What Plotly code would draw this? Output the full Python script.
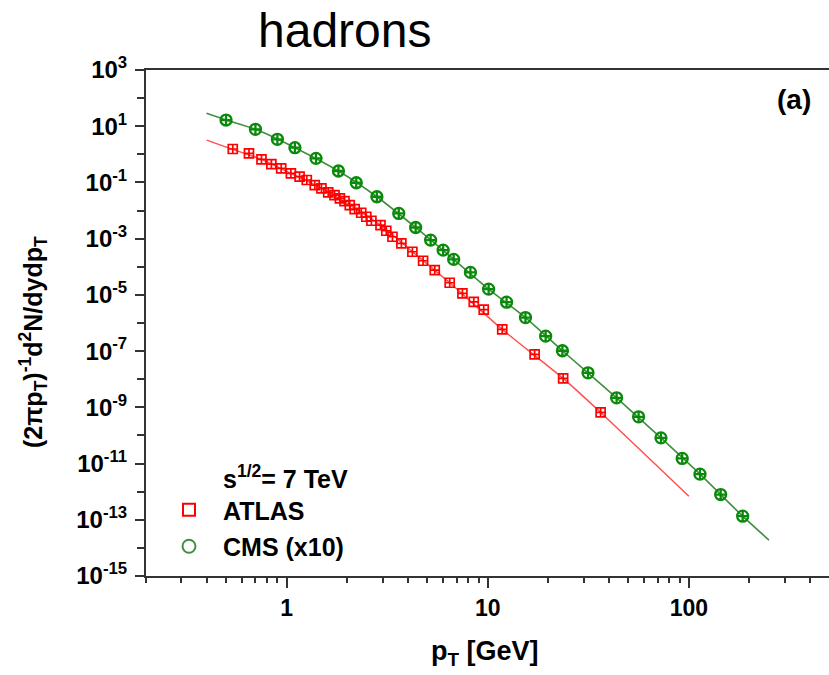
import numpy as np
import plotly.graph_objects as go

# ATLAS charged hadrons, sqrt(s) = 7 TeV
atlas_pt = [0.54, 0.65, 0.75, 0.84, 0.94, 1.05, 1.16, 1.26, 1.38, 1.49, 1.61, 1.73,
            1.84, 1.94, 2.06, 2.18, 2.35, 2.49, 2.64, 2.93, 3.13, 3.36, 3.72, 4.22,
            4.77, 5.45, 6.47, 7.48, 8.52, 9.55, 11.8, 17.1, 23.7, 36.4]
atlas_val = [1.55, 1.09, 0.664, 0.452, 0.318, 0.211, 0.160, 0.122, 0.0808, 0.0616,
             0.0444, 0.0356, 0.0272, 0.0218, 0.0157, 0.0113, 8.35e-3, 6.01e-3, 4.34e-3,
             3.05e-3, 1.91e-3, 1.17e-3, 6.81e-4, 3.42e-4, 1.64e-4, 7.64e-5, 2.70e-5,
             1.13e-5, 5.68e-6, 3.0e-6, 5.92e-7, 7.64e-8, 1.07e-8, 6.58e-10]

# CMS charged hadrons (scaled x10)
cms_pt = [0.5, 0.7, 0.9, 1.1, 1.4, 1.81, 2.22, 2.81, 3.61, 4.38, 5.2, 6.0, 6.77, 8.2,
          10.1, 12.4, 15.4, 19.4, 23.5, 31.5, 43.7, 56.2, 72.6, 92.6, 113.5, 143.8, 185]
cms_val = [16.6, 7.76, 3.42, 1.72, 0.72, 0.255, 0.0976, 0.031, 7.9e-3, 2.5e-3, 8.9e-4,
           3.9e-4, 1.83e-4, 6.3e-5, 1.6e-5, 5.5e-6, 1.56e-6, 3.4e-7, 1.03e-7, 1.69e-8,
           2.18e-9, 4.6e-10, 8.2e-11, 1.52e-11, 4.2e-12, 7.9e-13, 1.34e-13]

# Fitted curves
atlas_fit_pt = [0.4, 0.54, 0.75, 1.05, 1.49, 2.06, 2.93, 4.22, 6.47, 11.8, 23.7, 36.4, 100]
atlas_fit_val = [3.2, 1.5, 0.66, 0.21, 0.062, 0.0157, 3.05e-3, 3.42e-4, 2.7e-5, 5.92e-7,
                 1.07e-8, 6.58e-10, 6.9e-13]
cms_fit_pt = [0.4, 0.5, 0.7, 1.1, 1.81, 2.81, 4.38, 6.77, 10.1, 15.4, 23.5, 43.7, 72.6,
              113.5, 185, 250]
cms_fit_val = [28.8, 16.6, 7.76, 1.72, 0.255, 0.031, 2.5e-3, 1.83e-4, 1.6e-5, 1.56e-6,
               1.03e-7, 2.18e-9, 8.2e-11, 4.2e-12, 1.34e-13, 1.88e-14]

y_exp = list(range(-15, 4))
x_major = [1, 10, 100]
x_minor = [m * 10 ** d for d in (-1, 0, 1, 2) for m in range(2, 10) if 0.2 <= m * 10 ** d <= 500]

RED = "#ff0000"
GREEN = "#0a8a0a"
FONT = "Arial, Liberation Sans, sans-serif"

fig = go.Figure()

fig.add_trace(go.Scatter(x=atlas_fit_pt, y=atlas_fit_val, mode="lines",
                         line=dict(color="#ff5050", width=1.5, shape="spline", smoothing=0.6),
                         showlegend=False, hoverinfo="skip"))
fig.add_trace(go.Scatter(x=cms_fit_pt, y=cms_fit_val, mode="lines",
                         line=dict(color="#3f8f3f", width=1.6, shape="spline", smoothing=0.6),
                         showlegend=False, hoverinfo="skip"))
fig.add_trace(go.Scatter(x=atlas_pt, y=atlas_val, mode="markers",
                         marker=dict(symbol="square-cross-open", size=9, color=RED,
                                     line=dict(width=1.7, color=RED)),
                         showlegend=False))
fig.add_trace(go.Scatter(x=cms_pt, y=cms_val, mode="markers",
                         marker=dict(symbol="circle-cross-open", size=11, color=GREEN,
                                     line=dict(width=2.3, color=GREEN)),
                         showlegend=False))

# legend swatches
fig.add_trace(go.Scatter(x=[None], y=[None], mode="markers", name="ATLAS", legendgroup="a",
                         marker=dict(symbol="square-open", size=12, color=RED,
                                     line=dict(width=2, color=RED))))
fig.add_trace(go.Scatter(x=[None], y=[None], mode="markers", name="CMS (x10)", legendgroup="c",
                         marker=dict(symbol="circle-open", size=13, color="#3f8f3f",
                                     line=dict(width=2, color="#3f8f3f"))))

W, H = 829, 675
L, R, T, B = 146, 0, 70, 99

fig.update_layout(
    width=W, height=H,
    margin=dict(l=L, r=R, t=T, b=B),
    paper_bgcolor="white", plot_bgcolor="white",
    font=dict(family=FONT, color="black"),
    showlegend=True,
    legend=dict(x=(155 - L) / (W - L - R), y=(H - B - 487) / (H - T - B),
                xanchor="left", yanchor="top",
                font=dict(size=25, family=FONT, color="black", weight="bold"),
                itemwidth=58, tracegroupgap=1, bgcolor="rgba(0,0,0,0)"),
    xaxis=dict(type="log", range=[np.log10(0.2), np.log10(497)],
               showline=True, linecolor="#333333", linewidth=2, mirror=True,
               ticks="outside", ticklen=10, tickwidth=2, tickcolor="#333333",
               tickvals=x_major, ticktext=[str(v) for v in x_major],
               tickfont=dict(size=23, family=FONT, color="black", weight="bold"),
               minor=dict(tickvals=x_minor, ticks="outside", ticklen=5, tickwidth=2,
                          tickcolor="#333333", showgrid=False),
               showgrid=False, zeroline=False),
    yaxis=dict(type="log", range=[-15, 3],
               showline=True, linecolor="#333333", linewidth=2, mirror=False,
               ticks="outside", ticklen=9, tickwidth=2, tickcolor="#333333",
               ticklabelstandoff=3,
               tickvals=[10.0 ** e for e in y_exp if e % 2],
               ticktext=["10<sup>%d</sup>" % e for e in y_exp if e % 2],
               tickfont=dict(size=24, family=FONT, color="black", weight="bold"),
               minor=dict(tickvals=[10.0 ** e for e in y_exp if e % 2 == 0], ticks="outside",
                          ticklen=7, tickwidth=2, tickcolor="#333333", showgrid=False),
               showgrid=False, zeroline=False),
)

# text annotations
fig.add_annotation(text="hadrons", xref="paper", yref="paper",
                   x=(344 - L) / (W - L - R), y=(H - B - 30) / (H - T - B),
                   xanchor="center", yanchor="middle", showarrow=False,
                   font=dict(size=48, family=FONT, color="black"))
fig.add_annotation(text="<b>(a)</b>", xref="paper", yref="paper",
                   x=(794 - L) / (W - L - R), y=(H - B - 99) / (H - T - B),
                   xanchor="center", yanchor="middle", showarrow=False,
                   font=dict(size=28, family=FONT, color="black"))
fig.add_annotation(text="<b>s<sup>1/2</sup>= 7 TeV</b>", xref="paper", yref="paper",
                   x=(221 - L) / (W - L - R), y=(H - B - 477) / (H - T - B),
                   xanchor="left", yanchor="middle", showarrow=False,
                   font=dict(size=25, family=FONT, color="black"))
fig.add_annotation(text="<b>p<sub>T</sub> [GeV]</b>", xref="paper", yref="paper",
                   x=(485 - L) / (W - L - R), y=(H - B - 653) / (H - T - B),
                   xanchor="center", yanchor="middle", showarrow=False,
                   font=dict(size=27, family=FONT, color="black"))
fig.add_annotation(text="<b>(2πp<sub>T</sub>)<sup>-1</sup>d<sup>2</sup>N/dydp<sub>T</sub></b>",
                   xref="paper", yref="paper",
                   x=(33 - L) / (W - L - R), y=(H - B - 342) / (H - T - B),
                   xanchor="center", yanchor="middle", textangle=-90, showarrow=False,
                   font=dict(size=25, family=FONT, color="black"))

fig.write_html("out.html")
